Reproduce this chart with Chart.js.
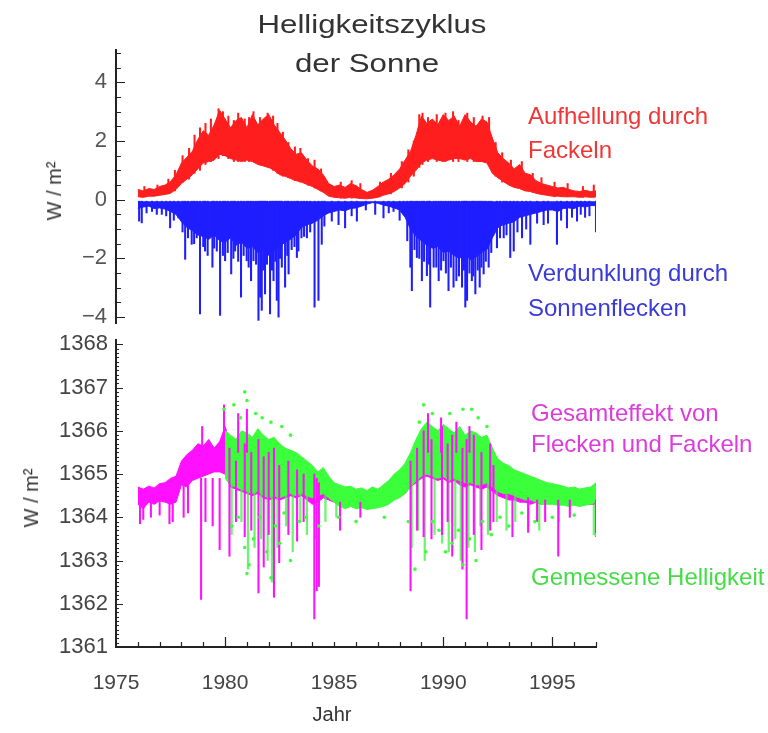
<!DOCTYPE html>
<html>
<head>
<meta charset="utf-8">
<script src="https://cdn.jsdelivr.net/npm/chart.js@4.4.0/dist/chart.umd.min.js"></script>
<style>
  body { margin: 0; background: #fff; width: 768px; height: 733px; position: relative; overflow: hidden;
         font-family: "Liberation Sans", Arial, sans-serif; }
  .box { position: absolute; left: 0; width: 768px; }
  .txt { position: absolute; white-space: nowrap; line-height: 1; }
  .lbl { font-size: 24px; }
  .title { font-size: 26px; color: #333; transform: translateX(-50%) scaleX(1.2); }
  .unit { font-size: 20px; color: #333; transform: translate(-50%, -50%) rotate(-90deg); }
</style>
</head>
<body>
<div class="box" style="top:0;height:330px"><canvas id="topChart"></canvas></div>
<div class="box" style="top:330px;height:403px"><canvas id="bottomChart"></canvas></div>

<div class="txt title" style="left:372px;top:11px">Helligkeitszyklus</div>
<div class="txt title" style="left:367px;top:50px">der Sonne</div>

<div class="txt lbl" style="left:528px;top:104px;color:#f03636">Aufhellung durch</div>
<div class="txt lbl" style="left:528px;top:138px;color:#f03636">Fackeln</div>
<div class="txt lbl" style="left:528px;top:261px;color:#3a3ad8">Verdunklung durch</div>
<div class="txt lbl" style="left:528px;top:296px;color:#3a3ad8">Sonnenflecken</div>
<div class="txt lbl" style="left:531px;top:401px;color:#dc3cdc">Gesamteffekt von</div>
<div class="txt lbl" style="left:531px;top:432px;color:#dc3cdc">Flecken und Fackeln</div>
<div class="txt lbl" style="left:531px;top:565px;color:#46dc46">Gemessene Helligkeit</div>

<div class="txt unit" style="left:54px;top:191px">W / m²</div>
<div class="txt unit" style="left:31px;top:498px">W / m²</div>
<div class="txt" style="left:332px;top:704px;font-size:20px;color:#333;transform:translateX(-50%)">Jahr</div>

<script>
// sample grid (quarter years) shared by the band series
const years = [
  1976, 1976.25, 1976.5, 1976.75, 1977, 1977.25, 1977.5, 1977.75,
  1978, 1978.25, 1978.5, 1978.75, 1979, 1979.25, 1979.5, 1979.75,
  1980, 1980.25, 1980.5, 1980.75, 1981, 1981.25, 1981.5, 1981.75,
  1982, 1982.25, 1982.5, 1982.75, 1983, 1983.25, 1983.5, 1983.75,
  1984, 1984.25, 1984.5, 1984.75, 1985, 1985.25, 1985.5, 1985.75,
  1986, 1986.25, 1986.5, 1986.75, 1987, 1987.25, 1987.5, 1987.75,
  1988, 1988.25, 1988.5, 1988.75, 1989, 1989.25, 1989.5, 1989.75,
  1990, 1990.25, 1990.5, 1990.75, 1991, 1991.25, 1991.5, 1991.75,
  1992, 1992.25, 1992.5, 1992.75, 1993, 1993.25, 1993.5, 1993.75,
  1994, 1994.25, 1994.5, 1994.75, 1995, 1995.25, 1995.5, 1995.75,
  1996, 1996.25, 1996.5, 1996.75, 1997
];

// top panel: brightening by faculae (upper / lower edge of the band)
const faculaeHigh = [
  0.35, 0.30, 0.38, 0.35, 0.45, 0.50, 0.62, 0.85, 1.25, 1.45, 1.65, 2.05,
  2.35, 2.20, 2.55, 3.05, 2.75, 2.45, 2.70, 2.80, 2.45, 2.90, 2.55, 2.75,
  2.90, 2.55, 2.30, 2.05, 1.75, 1.55, 1.60, 1.35, 1.15, 1.05, 0.85, 0.55,
  0.45, 0.50, 0.42, 0.55, 0.48, 0.35, 0.25, 0.32, 0.45, 0.60, 0.70, 0.85,
  1.05, 1.35, 1.65, 2.20, 2.85, 2.60, 2.75, 2.55, 2.90, 2.70, 2.85, 2.50,
  2.90, 2.65, 2.50, 2.75, 2.65, 2.10, 1.60, 1.40, 1.25, 1.05, 1.20, 0.90,
  0.85, 0.65, 0.55, 0.50, 0.45, 0.40, 0.42, 0.35, 0.30, 0.28, 0.32, 0.28, 0.30
];
const faculaeLow = [
  0.10, 0.08, 0.12, 0.12, 0.15, 0.18, 0.22, 0.35, 0.55, 0.70, 0.85, 1.05,
  1.25, 1.30, 1.35, 1.55, 1.50, 1.40, 1.35, 1.30, 1.35, 1.30, 1.20, 1.15,
  1.10, 1.00, 0.85, 0.80, 0.72, 0.65, 0.60, 0.52, 0.45, 0.35, 0.25, 0.12,
  0.08, 0.07, 0.05, 0.08, 0.06, 0.04, 0.03, 0.05, 0.08, 0.15, 0.20, 0.28,
  0.40, 0.55, 0.80, 1.00, 1.25, 1.35, 1.40, 1.35, 1.30, 1.35, 1.40, 1.40,
  1.35, 1.40, 1.30, 1.30, 1.25, 0.90, 0.75, 0.62, 0.50, 0.42, 0.38, 0.30,
  0.28, 0.22, 0.18, 0.15, 0.12, 0.12, 0.10, 0.10, 0.10, 0.08, 0.10, 0.08, 0.10
];
const faculaeSpikeYears = [
  1976.3, 1976.9, 1977.4, 1977.7, 1978.05, 1978.35, 1978.6, 1978.85, 1979.1, 1979.35,
  1979.7, 1979.9, 1980.15, 1980.4, 1980.6, 1980.9, 1981.1, 1981.3, 1981.6, 1981.95,
  1982.2, 1982.4, 1982.65, 1982.9, 1983.2, 1983.45, 1983.8, 1984.1, 1984.4, 1985.3,
  1985.8, 1986.2, 1987.1, 1987.6, 1988.1, 1988.4, 1988.65, 1988.9, 1989.05, 1989.3,
  1989.7, 1990.1, 1990.45, 1990.7, 1991.1, 1991.4, 1991.8, 1992.1, 1992.4, 1992.7,
  1993.1, 1993.6, 1994.1, 1994.5, 1995.1, 1995.7, 1996.4, 1996.9
];
const faculaeSpikeLows = [
  0.1, 0.15, 0.2, 0.3, 0.6, 0.7, 0.9, 1.0, 1.2, 1.3,
  1.4, 1.5, 1.4, 1.3, 1.3, 1.3, 1.3, 1.3, 1.2, 1.1,
  1.0, 0.9, 0.8, 0.75, 0.65, 0.6, 0.5, 0.4, 0.3, 0.05,
  0.05, 0.05, 0.1, 0.2, 0.4, 0.6, 0.8, 1.1, 1.2, 1.3,
  1.3, 1.3, 1.3, 1.3, 1.3, 1.3, 1.3, 1.2, 0.8, 0.6,
  0.5, 0.35, 0.25, 0.2, 0.1, 0.1, 0.08, 0.08
];
const faculaeSpikeTops = [
  0.45, 0.5, 0.7, 1.0, 1.5, 1.75, 2.2, 2.45, 2.6, 2.75,
  3.1, 3.0, 2.85, 2.7, 2.95, 2.75, 2.8, 3.0, 2.8, 2.95,
  2.85, 2.6, 2.3, 1.95, 1.8, 1.75, 1.4, 1.35, 1.05, 0.6,
  0.65, 0.55, 0.6, 0.9, 1.3, 1.7, 2.0, 2.9, 2.95, 2.8,
  2.9, 2.95, 3.0, 2.7, 2.95, 2.8, 2.85, 2.8, 1.95, 1.6,
  1.35, 1.3, 0.9, 0.75, 0.6, 0.55, 0.45, 0.5
];

// top panel: darkening by sunspots (dense part + single spikes)
const spotsCore = [
  -0.30, -0.25, -0.22, -0.30, -0.28, -0.32, -0.40, -0.50, -0.75, -0.95, -1.05, -1.20,
  -1.25, -1.35, -1.20, -1.40, -1.45, -1.30, -1.55, -1.45, -1.65, -1.60, -1.80, -1.70,
  -1.90, -1.75, -1.60, -1.45, -1.35, -1.20, -0.95, -0.85, -0.80, -0.70, -0.55, -0.45,
  -0.40, -0.35, -0.38, -0.30, -0.28, -0.22, -0.15, -0.10, -0.12, -0.18, -0.22, -0.28,
  -0.35, -0.60, -1.00, -1.25, -1.40, -1.55, -1.65, -1.60, -1.80, -1.75, -1.90, -2.00,
  -1.85, -2.05, -1.95, -1.80, -1.70, -1.30, -0.95, -0.85, -0.80, -0.75, -0.60, -0.55,
  -0.50, -0.45, -0.40, -0.35, -0.35, -0.40, -0.30, -0.28, -0.30, -0.22, -0.25, -0.20, -0.20
];
const spotsTop = -0.05;
const spotSpikeYears = [
  1976.06, 1976.18, 1976.87, 1977.48, 1977.86, 1978.17, 1978.47, 1978.7, 1978.85,
  1979.08, 1979.42, 1979.62, 1979.77, 1980.0, 1980.28, 1980.46, 1980.73, 1980.99,
  1981.19, 1981.3, 1981.53, 1981.61, 1981.68, 1981.83, 1982.06, 1982.22, 1982.37,
  1982.45, 1982.6, 1982.75, 1982.91, 1983.29, 1983.36, 1983.75, 1984.1, 1984.28,
  1984.43, 1984.89, 1985.2, 1985.5, 1986.04, 1986.88, 1987.26, 1987.72, 1988.18,
  1988.49, 1988.56, 1988.79, 1989.02, 1989.25, 1989.4, 1989.56, 1989.79, 1990.01,
  1990.24, 1990.47, 1990.6, 1990.86, 1991.01, 1991.09, 1991.31, 1991.47, 1991.67,
  1991.85, 1992.08, 1992.46, 1992.77, 1993.07, 1993.23, 1993.61, 1993.99, 1994.6,
  1995.21, 1995.67, 1996.13, 1996.5, 1997.0
];
const spotSpikeLows = [
  -0.73, -0.79, -0.5, -0.96, -0.62, -2.03, -1.52, -1.3, -3.89,
  -1.75, -2.3, -1.75, -3.94, -2.08, -2.53, -1.75, -3.32, -2.08,
  -2.76, -2.08, -4.11, -3.32, -3.77, -3.21, -3.89, -2.76, -3.43,
  -4.0, -2.3, -2.98, -2.53, -1.97, -1.75, -1.3, -3.66, -3.43,
  -1.52, -0.73, -0.85, -0.96, -0.73, -0.5, -0.62, -0.4, -0.5,
  -2.3, -3.1, -1.97, -2.76, -2.59, -3.66, -2.3, -2.76, -2.08,
  -3.1, -2.98, -2.76, -2.98, -3.66, -3.43, -2.76, -3.21, -2.98,
  -2.53, -2.3, -1.64, -1.3, -1.97, -1.75, -1.3, -1.52, -0.85,
  -1.52, -0.96, -0.73, -0.6, -1.1
];
const spotFringeYears = [
  1976.4, 1976.65, 1977.1, 1977.3, 1977.65, 1978.05, 1978.3, 1978.58, 1979.0, 1979.2,
  1979.5, 1979.9, 1980.12, 1980.38, 1980.6, 1980.85, 1981.08, 1981.42, 1981.75, 1981.92,
  1982.15, 1982.3, 1982.52, 1982.85, 1983.05, 1983.18, 1983.5, 1983.62, 1983.9, 1984.55,
  1985.8, 1986.45, 1987.5, 1988.0, 1988.35, 1988.68, 1988.9, 1989.12, 1989.35, 1989.68,
  1989.9, 1990.12, 1990.35, 1990.72, 1990.95, 1991.2, 1991.38, 1991.58, 1991.75, 1991.95,
  1992.2, 1992.6, 1992.9, 1993.4, 1993.8, 1994.3, 1994.8, 1995.4, 1995.9, 1996.3, 1996.7
];
const spotFringeLows = [
  -0.45, -0.4, -0.5, -0.55, -0.7, -1.1, -1.3, -1.5, -1.6, -1.9,
  -1.65, -1.9, -1.8, -2.0, -2.1, -1.9, -2.3, -2.2, -2.4, -2.2,
  -2.4, -2.1, -2.0, -1.9, -1.7, -1.6, -1.3, -1.25, -1.1, -0.9,
  -0.55, -0.35, -0.45, -0.7, -1.4, -1.7, -2.0, -2.1, -2.2, -2.3,
  -2.4, -2.5, -2.3, -2.6, -2.4, -2.5, -2.6, -2.4, -2.3, -2.1,
  -1.8, -1.3, -1.2, -1.1, -1.0, -0.8, -0.8, -0.7, -0.6, -0.5, -0.55
];

// bottom panel: combined model (magenta)
const modelHigh = [
  1364.70, 1364.65, 1364.72, 1364.68, 1364.78, 1364.80, 1364.90, 1364.95,
  1365.30, 1365.45, 1365.55, 1365.70, 1365.65, 1365.80, 1365.60, 1365.75,
  1366.10, 1365.70, 1365.60, 1365.75, 1365.80, 1365.70, 1365.85, 1365.70,
  1365.60, 1365.65, 1365.50, 1365.40, 1365.35, 1365.30, 1365.20, 1365.10,
  1365.00, 1364.95, 1364.90, 1364.80, 1364.70, 1364.65, 1364.60, 1364.62,
  1364.58, 1364.55, 1364.55, 1364.58, 1364.60, 1364.62, 1364.70, 1364.85,
  1364.95, 1365.10, 1365.40, 1365.65, 1365.90, 1366.10, 1365.95, 1365.85,
  1366.05, 1365.90, 1365.80, 1365.95, 1365.70, 1365.80, 1365.75, 1365.65,
  1365.70, 1365.40, 1365.10, 1365.05, 1364.95, 1364.90, 1364.85, 1364.80,
  1364.75, 1364.78, 1364.70, 1364.68, 1364.72, 1364.65, 1364.62, 1364.60,
  1364.58, 1364.60, 1364.55, 1364.58, 1364.60
];
const modelLow = [
  1364.30, 1364.20, 1364.35, 1364.30, 1364.38, 1364.35, 1364.30, 1364.35,
  1364.75, 1364.70, 1364.85, 1364.90, 1364.95, 1365.00, 1365.05, 1365.05,
  1365.00, 1364.70, 1364.65, 1364.60, 1364.55, 1364.50, 1364.55, 1364.45,
  1364.40, 1364.45, 1364.40, 1364.45, 1364.50, 1364.45, 1364.50, 1364.40,
  1364.30, 1364.35, 1364.45, 1364.40, 1364.35, 1364.30, 1364.28, 1364.30,
  1364.30, 1364.28, 1364.30, 1364.32, 1364.30, 1364.33, 1364.35, 1364.45,
  1364.50, 1364.55, 1364.70, 1364.80, 1364.90, 1364.95, 1364.90, 1364.85,
  1364.90, 1364.80, 1364.85, 1364.75, 1364.70, 1364.75, 1364.70, 1364.65,
  1364.70, 1364.60, 1364.50, 1364.45, 1364.40, 1364.40, 1364.35, 1364.35,
  1364.30, 1364.35, 1364.30, 1364.35, 1364.40, 1364.35, 1364.38, 1364.35,
  1364.30, 1364.32, 1364.30, 1364.30, 1364.30
];
const modelSpikeYears = [
  1976.1, 1976.25, 1976.6, 1977.0, 1977.45, 1977.6, 1978.1, 1978.3, 1978.9, 1979.1,
  1979.43, 1979.75, 1980.2, 1980.5, 1980.9, 1981.2, 1981.53, 1981.77, 1982.0, 1982.24,
  1982.48, 1982.9, 1983.3, 1983.6, 1984.09, 1984.2, 1984.3, 1985.27, 1986.2, 1988.5,
  1988.8, 1989.1, 1989.46, 1989.94, 1990.2, 1990.41, 1990.88, 1991.07, 1991.4, 1991.75,
  1992.15, 1992.3, 1993.17, 1993.89, 1994.3, 1994.67, 1995.27, 1995.8, 1997.0
];
const modelSpikeLows = [
  1363.85, 1363.95, 1364.0, 1364.05, 1363.85, 1363.9, 1364.0, 1364.1, 1362.1, 1363.9,
  1363.8, 1363.25, 1363.1, 1363.9, 1363.55, 1363.7, 1362.25, 1362.85, 1363.6, 1362.15,
  1362.95, 1363.6, 1363.45, 1363.9, 1361.65, 1362.3, 1362.4, 1363.7, 1364.0, 1362.3,
  1363.7, 1363.55, 1363.5, 1363.6, 1363.9, 1363.1, 1362.8, 1361.65, 1363.6, 1363.25,
  1363.7, 1363.9, 1363.55, 1363.65, 1363.9, 1363.9, 1363.1, 1364.0, 1363.55
];
const modelSpikeTops = [
  1364.4, 1364.4, 1364.4, 1364.4, 1364.4, 1364.4, 1364.9, 1364.9, 1364.9, 1364.9,
  1364.9, 1364.9, 1365.6, 1365.3, 1365.7, 1365.5, 1365.8, 1365.4, 1365.5, 1365.6,
  1365.2, 1365.3, 1365.1, 1365.0, 1365.0, 1364.9, 1364.8, 1364.35, 1364.35, 1365.3,
  1365.6, 1366.0, 1365.8, 1366.1, 1365.7, 1365.9, 1365.6, 1365.8, 1365.9, 1365.5,
  1365.7, 1365.2, 1364.5, 1364.45, 1364.4, 1364.4, 1364.4, 1364.4, 1364.4
];
const modelPeakYears = [1978.95, 1979.95, 1980.6, 1981.0, 1989.3, 1989.9, 1990.6, 1991.2];
const modelPeakTops = [1366.1, 1366.6, 1366.4, 1366.5, 1366.4, 1366.3, 1366.2, 1366.1];
const modelPeakBase = 1365.5;

// bottom panel: measured irradiance (green), starts 1980
const measuredHigh = [
  null, null, null, null, null, null, null, null,
  null, null, null, null, null, null, null, null,
  1366.00, 1365.90, 1365.80, 1366.00, 1365.95, 1365.85, 1366.05, 1365.90,
  1365.80, 1365.85, 1365.70, 1365.60, 1365.55, 1365.50, 1365.40, 1365.30,
  1365.20, 1365.05, 1365.15, 1364.95, 1364.80, 1364.75, 1364.70, 1364.72,
  1364.65, 1364.68, 1364.62, 1364.70, 1364.65, 1364.75, 1364.85, 1365.00,
  1365.10, 1365.25, 1365.50, 1365.80, 1366.05, 1366.20, 1366.10, 1366.00,
  1366.15, 1366.05, 1365.95, 1366.10, 1365.90, 1366.00, 1365.95, 1365.85,
  1365.90, 1365.60, 1365.35, 1365.25, 1365.20, 1365.10, 1365.05, 1365.00,
  1364.95, 1364.90, 1364.85, 1364.80, 1364.78, 1364.75, 1364.72, 1364.68,
  1364.70, 1364.65, 1364.68, 1364.70, 1364.80
];
const measuredLow = [
  null, null, null, null, null, null, null, null,
  null, null, null, null, null, null, null, null,
  1364.90, 1364.75, 1364.70, 1364.65, 1364.60, 1364.55, 1364.60, 1364.50,
  1364.45, 1364.50, 1364.45, 1364.50, 1364.55, 1364.50, 1364.55, 1364.50,
  1364.45, 1364.50, 1364.55, 1364.45, 1364.35, 1364.25, 1364.20, 1364.25,
  1364.20, 1364.22, 1364.18, 1364.20, 1364.22, 1364.25, 1364.30, 1364.40,
  1364.45, 1364.55, 1364.70, 1364.85, 1364.95, 1365.00, 1364.95, 1364.90,
  1364.95, 1364.85, 1364.90, 1364.85, 1364.80, 1364.80, 1364.75, 1364.75,
  1364.80, 1364.70, 1364.60, 1364.55, 1364.55, 1364.50, 1364.45, 1364.40,
  1364.40, 1364.35, 1364.30, 1364.30, 1364.30, 1364.28, 1364.28, 1364.25,
  1364.28, 1364.25, 1364.28, 1364.30, 1364.35
];
const measuredStreakYears = [
  1980.3, 1980.75, 1981.05, 1981.35, 1981.65, 1981.95, 1982.15, 1982.4, 1982.8, 1983.1,
  1983.45, 1983.75, 1984.15, 1984.6, 1985.1, 1988.55, 1988.85, 1989.15, 1989.6, 1989.95,
  1990.25, 1990.55, 1990.8, 1991.15, 1991.45, 1991.7, 1992.05, 1992.45, 1992.9, 1993.3,
  1993.9, 1994.4, 1995.3, 1996.9
];
const measuredStreakLows = [
  1363.6, 1363.9, 1362.8, 1363.3, 1363.5, 1363.0, 1362.5, 1363.3, 1363.8, 1363.2,
  1363.9, 1363.6, 1363.5, 1363.9, 1364.0, 1363.3, 1363.7, 1363.0, 1363.6, 1363.4,
  1363.2, 1363.5, 1363.0, 1363.3, 1363.2, 1363.8, 1363.6, 1363.9, 1363.7, 1363.9,
  1363.8, 1363.7, 1363.9, 1363.6
];
const measuredStreakTops = [
  1364.8, 1364.7, 1364.6, 1364.6, 1364.6, 1364.5, 1364.5, 1364.5, 1364.5, 1364.55,
  1364.55, 1364.5, 1364.5, 1364.55, 1364.4, 1364.8, 1364.9, 1364.95, 1364.95, 1364.95,
  1364.85, 1364.9, 1364.85, 1364.8, 1364.75, 1364.75, 1364.8, 1364.6, 1364.55, 1364.5,
  1364.4, 1364.35, 1364.3, 1364.3
];
const measuredDotYears = [
  1979.95, 1980.4, 1980.7, 1980.9, 1981.0, 1981.4, 1981.7, 1982.1, 1982.6, 1983.0,
  1988.9, 1989.1, 1989.5, 1990.3, 1990.9, 1991.3, 1991.6, 1992.0,
  1980.3, 1980.6, 1980.9, 1981.0, 1981.1, 1981.3, 1981.6, 1981.9, 1982.1, 1982.3,
  1982.5, 1982.7, 1983.0, 1983.4, 1983.7, 1984.3, 1985.2, 1986.0, 1987.3, 1988.4,
  1988.7, 1989.2, 1989.5, 1989.8, 1990.1, 1990.4, 1990.7, 1990.9, 1991.2, 1991.5,
  1991.8, 1992.2, 1992.6, 1993.0, 1993.6, 1994.2, 1995.0, 1996.0, 1997.0
];
const measuredDotValues = [
  1366.5, 1366.6, 1366.3, 1366.9, 1366.7, 1366.4, 1366.3, 1366.2, 1366.1, 1365.9,
  1366.2, 1366.6, 1366.4, 1366.4, 1366.5, 1366.5, 1366.3, 1366.1,
  1363.8, 1364.0, 1363.3, 1362.7, 1362.9, 1363.5, 1364.0, 1363.2, 1362.6, 1363.8,
  1363.4, 1364.1, 1363.0, 1363.9, 1364.0, 1363.8, 1364.0, 1363.9, 1364.0, 1363.9,
  1362.8, 1363.2, 1363.9, 1363.7, 1363.2, 1363.4, 1363.7, 1362.9, 1363.5, 1363.0,
  1363.9, 1363.6, 1364.0, 1363.8, 1364.1, 1363.9, 1364.0, 1364.05, 1363.6
];

// axes
const xLabelYears = [1975, 1980, 1985, 1990, 1995];
const xLongTicks = [1980, 1990, 1995];
const topTicks = [-4, -2, 0, 2, 4];
const bottomTicks = [1361, 1362, 1363, 1364, 1365, 1366, 1367, 1368];

const RED = '#ff1e1e', BLUE = '#1e1eff', MAGENTA = '#ff10ff', GREEN = '#3cff3c';

Chart.defaults.font.family = '"Liberation Sans", Arial, sans-serif';

const pts = (xs, ys) => xs.map((x, i) => ({ x: x, y: ys[i] })).filter(p => p.y !== null);
const spikes = (xs, lows, tops) => xs.map((x, i) => ({ x: x, y: [lows[i], Array.isArray(tops) ? tops[i] : tops] }));

function band(data, color, fill) {
    return { type: 'line', data: data, borderColor: color, backgroundColor: color, borderWidth: 1,
             pointRadius: 0, tension: 0, fill: fill };
}
function spikeSet(data, color, width) {
    return { type: 'bar', data: data, backgroundColor: color, borderWidth: 0,
             barThickness: width || 1.4, grouped: false };
}
// no extra room for the tick labels: keep the plot box where the original has it
function fitY(width) {
    return s => { s.width = width; s.paddingTop = 0; s.paddingBottom = 0; };
}

// ticks pointing into the plot, like the original
const insideTicks = {
    id: 'insideTicks',
    afterDraw(chart, args, o) {
        const ctx = chart.ctx, area = chart.chartArea;
        const ys = chart.scales.y, xs = chart.scales.x;
        ctx.save();
        ctx.strokeStyle = '#222';
        ctx.lineWidth = 1.2;
        ctx.beginPath();
        const n = Math.round((o.yTo - o.yFrom) / o.yMinor);
        for (let i = 0; i <= n; i++) {
            const v = o.yFrom + i * o.yMinor;
            const major = Math.abs(v / o.yMajor - Math.round(v / o.yMajor)) < 1e-6;
            const py = Math.round(ys.getPixelForValue(v)) + 0.5;
            ctx.moveTo(area.left, py);
            ctx.lineTo(area.left + (major ? o.yMajorLen : o.yMinorLen), py);
        }
        if (o.xTicks) {
            for (let yr = 1976; yr <= 1997; yr++) {
                const px = Math.round(xs.getPixelForValue(yr)) + 0.5;
                const len = xLongTicks.includes(yr) ? 10 : 5;
                ctx.moveTo(px, area.bottom);
                ctx.lineTo(px, area.bottom - len);
            }
        }
        ctx.stroke();
        ctx.restore();
    }
};

const minus = v => (v < 0 ? '\u2212' + Math.abs(v) : String(v));

new Chart(document.getElementById('topChart'), {
    type: 'line',
    data: {
        datasets: [
            spikeSet(spikes(spotSpikeYears, spotSpikeLows, spotsTop), BLUE),
            spikeSet(spikes(spotFringeYears, spotFringeLows, spotsTop), BLUE),
            spikeSet(spikes(faculaeSpikeYears, faculaeSpikeLows, faculaeSpikeTops), RED),
            band(pts(years, faculaeHigh), RED, false),
            band(pts(years, faculaeLow), RED, '-1'),
            band(pts(years, spotsCore), BLUE, { value: spotsTop })
        ]
    },
    options: {
        responsive: true,
        maintainAspectRatio: false,
        animation: false,
        layout: { padding: { left: 0, right: 172, top: 50, bottom: 7 } },
        scales: {
            x: { type: 'linear', min: 1975, max: 1997, display: false, offset: false },
            y: {
                min: -4.2, max: 5.1,
                afterFit: fitY(116),
                afterBuildTicks: s => { s.ticks = topTicks.map(v => ({ value: v })); },
                grid: { display: true, drawOnChartArea: false, drawTicks: false },
                border: { display: true, color: '#222', width: 2 },
                ticks: { color: '#555', font: { size: 22 }, padding: 9, callback: minus }
            }
        },
        plugins: {
            legend: { display: false },
            tooltip: { enabled: false },
            insideTicks: { yFrom: -4, yTo: 5, yMinor: 0.5, yMajor: 2, yMinorLen: 5, yMajorLen: 9, xTicks: false }
        }
    },
    plugins: [insideTicks]
});

new Chart(document.getElementById('bottomChart'), {
    type: 'line',
    data: {
        datasets: [
            { type: 'line', data: pts(measuredDotYears, measuredDotValues), showLine: false,
              pointRadius: 1.8, pointBorderWidth: 0, pointBackgroundColor: GREEN },
            spikeSet(spikes(modelSpikeYears, modelSpikeLows, modelSpikeTops), MAGENTA),
            spikeSet(spikes(modelPeakYears, modelPeakTops, modelPeakBase), MAGENTA),
            spikeSet(spikes(measuredStreakYears, measuredStreakLows, measuredStreakTops), 'rgba(60,240,60,0.75)', 1.6),
            band(pts(years, measuredHigh), GREEN, false),
            band(pts(years, measuredLow), GREEN, '-1'),
            band(pts(years, modelHigh), MAGENTA, false),
            band(pts(years, modelLow), MAGENTA, '-1')
        ]
    },
    options: {
        responsive: true,
        maintainAspectRatio: false,
        animation: false,
        layout: { padding: { left: 0, right: 172, top: 10, bottom: 0 } },
        scales: {
            x: {
                type: 'linear', min: 1975, max: 1997, offset: false,
                afterFit: s => { s.height = 86; },
                afterBuildTicks: s => { s.ticks = xLabelYears.map(v => ({ value: v })); },
                grid: { display: true, drawOnChartArea: false, drawTicks: false },
                border: { display: true, color: '#222', width: 2 },
                ticks: { color: '#444', font: { size: 21 }, padding: 24, maxRotation: 0,
                         callback: v => String(v) }
            },
            y: {
                min: 1361, max: 1368.1,
                afterFit: fitY(116),
                afterBuildTicks: s => { s.ticks = bottomTicks.map(v => ({ value: v })); },
                grid: { display: true, drawOnChartArea: false, drawTicks: false },
                border: { display: true, color: '#222', width: 2 },
                ticks: { color: '#444', font: { size: 22 }, padding: 8, callback: v => String(v) }
            }
        },
        plugins: {
            legend: { display: false },
            tooltip: { enabled: false },
            insideTicks: { yFrom: 1361, yTo: 1368, yMinor: 0.1, yMajor: 1, yMinorLen: 3, yMajorLen: 7, xTicks: true }
        }
    },
    plugins: [insideTicks]
});
</script>
</body>
</html>
